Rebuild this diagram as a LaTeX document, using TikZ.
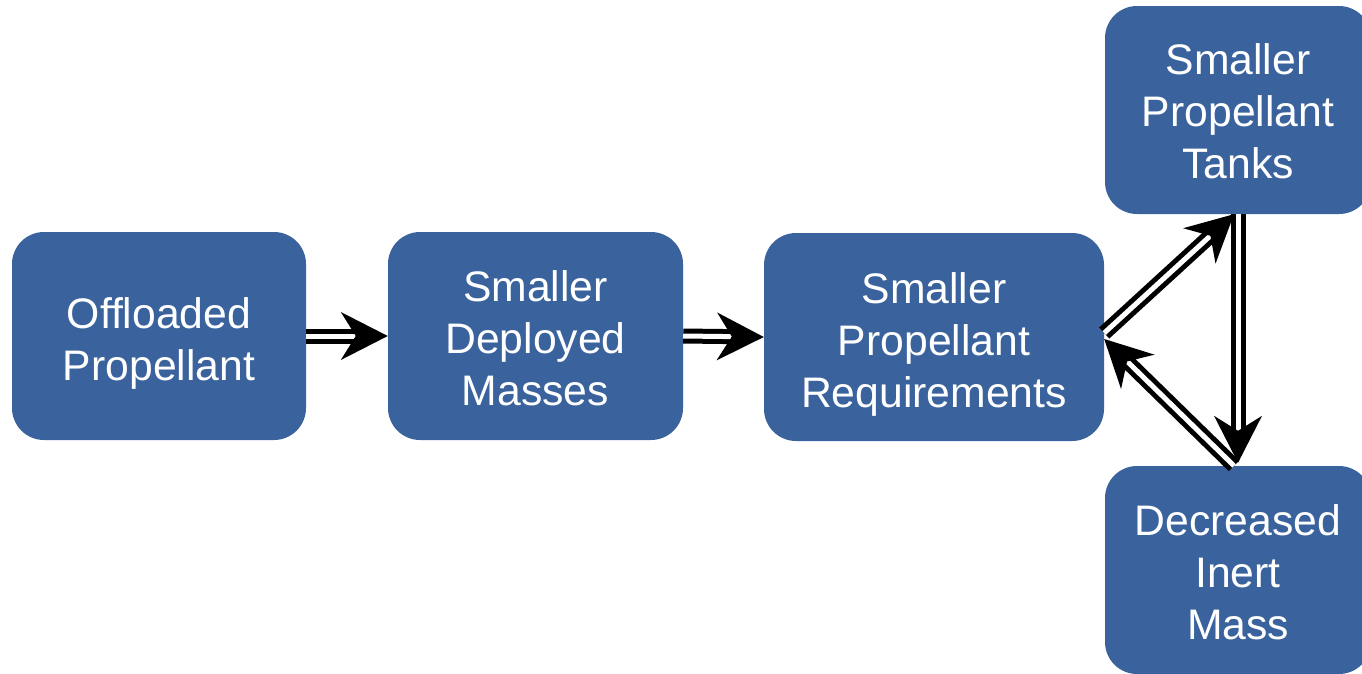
\documentclass[tikz,border=0pt]{standalone}
\usepackage{fontspec}
\setmainfont{Liberation Sans}
\usetikzlibrary{decorations.markings}
\definecolor{boxblue}{RGB}{58,99,158}
\tikzset{
  box/.style={fill=boxblue, rounded corners=32pt, inner sep=0pt,
    minimum height=208pt},
  txt/.style={text=white, align=center, inner sep=0pt,
    font=\fontsize{42.7}{52}\selectfont},
  shaft/.style={draw=black, double=white, line width=5pt, double distance=5pt,
    shorten >=28pt},
  head/.style={decorate, decoration={markings, mark=at position 1 with
    {\fill[black] (0,0) -- (-47pt,24pt) -- (-32pt,0) -- (-47pt,-24pt) -- cycle;}}},
}
% double-line connector with a notched head
\newcommand\linkarrow[2]{%
  \draw[shaft] #1 -- #2;
  \path[head] #1 -- #2;}
\begin{document}
\begin{tikzpicture}[x=1pt, y=-1pt]
  \useasboundingbox (0,0) rectangle (1362,673);
  % boxes
  \node[box, minimum width=294pt] (A) at (159,336) {};
  \node[box, minimum width=295pt] (B) at (535.5,336) {};
  \node[box, minimum width=340pt] (C) at (934,337) {};
  \node[box, minimum width=266pt] (D) at (1238,110) {};
  \node[box, minimum width=266pt] (E) at (1238,570) {};
  % box texts
  \node[txt] (At) at ([yshift=-7pt]A.center) {Offloaded\\Propellant};
  \node[txt] (Bt) at ([yshift=-2pt]B.center) {Smaller\\Deployed\\Masses};
  \node[txt] (Ct) at ([yshift=-7pt]C.center) {Smaller\\Propellant\\Requirements};
  \node[txt] (Dt) at ([yshift=-1.5pt]D.center) {Smaller\\Propellant\\Tanks};
  \node[txt] (Et) at ([yshift=-2.5pt]E.center) {Decreased\\Inert\\Mass};

  % connectors
  \linkarrow{(A.east)}{(B.west)}
  \linkarrow{(B.east)}{(C.west)}
  \linkarrow{([yshift=4pt]C.east)}{([xshift=-4pt]D.south)}
  \linkarrow{(D.south)}{([yshift=3pt]E.north)}
  \linkarrow{([xshift=-4pt]E.north)}{([yshift=-2pt]C.east)}
\end{tikzpicture}
\end{document}
